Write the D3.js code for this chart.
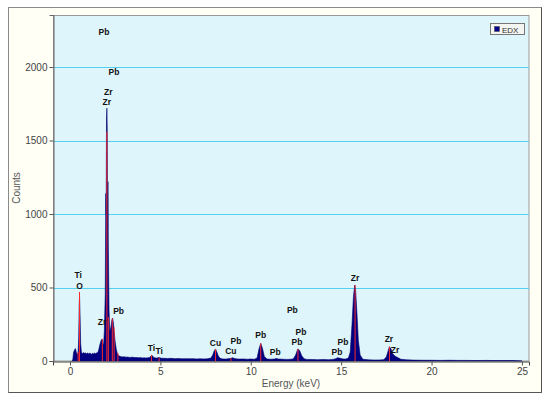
<!DOCTYPE html>
<html><head><meta charset="utf-8">
<script src="https://cdn.jsdelivr.net/npm/d3@7"></script>
<style>body{margin:0;background:#fff}svg{display:block}</style>
</head><body><svg id="c" width="550" height="402"></svg>
<script>
// spectrum outline: energy (keV) and counts
const energy = [0.10,0.15,0.20,0.25,0.30,0.35,0.40,0.45,0.48,0.51,0.53,0.56,0.59,0.63,0.70,0.75,0.80,0.85,0.90,0.95,1.00,1.05,1.10,1.15,1.20,1.25,1.30,1.35,1.40,1.45,1.50,1.55,1.58,1.65,1.72,1.78,1.82,1.86,1.90,1.95,1.98,2.00,2.02,2.04,2.06,2.08,2.10,2.12,2.16,2.20,2.26,2.32,2.36,2.40,2.44,2.50,2.56,2.62,2.70,2.80,2.90,3.00,3.10,3.20,3.30,3.40,3.50,3.60,3.70,3.80,3.90,4.00,4.10,4.20,4.30,4.40,4.47,4.52,4.57,4.65,4.80,4.93,5.05,5.20,5.40,5.60,5.80,6.00,6.20,6.40,6.60,6.80,7.00,7.20,7.40,7.60,7.80,7.90,7.98,8.05,8.12,8.20,8.30,8.45,8.60,8.75,8.90,9.00,9.10,9.25,9.40,9.60,9.80,10.00,10.20,10.35,10.45,10.55,10.65,10.75,10.90,11.10,11.30,11.40,11.55,11.80,12.00,12.20,12.35,12.48,12.60,12.70,12.82,12.95,13.10,13.40,13.70,14.00,14.30,14.55,14.70,14.80,14.95,15.10,15.25,15.40,15.50,15.60,15.68,15.75,15.80,15.87,15.95,16.05,16.20,16.50,16.80,17.10,17.35,17.50,17.60,17.67,17.75,17.85,17.98,18.10,18.30,18.60,19.00,19.50,20.00,20.50,21.00,21.50,22.00,22.50,23.00,23.50,24.00,24.50,25.00,25.05];
const counts = [0,5,60,75,85,60,40,60,150,380,440,300,120,60,50,58,52,56,48,54,52,47,55,50,46,52,49,54,50,53,56,62,72,110,140,150,120,110,200,450,1140,1000,1640,1720,1580,900,1220,800,350,200,230,280,292,260,200,130,80,50,35,30,28,29,26,27,24,26,25,23,24,22,23,21,22,20,22,24,32,40,34,22,20,24,19,18,17,18,16,17,15,16,15,16,14,15,14,15,20,42,70,82,62,35,18,14,13,15,18,22,17,14,13,14,12,13,12,20,80,120,85,30,13,12,13,17,13,12,11,12,14,40,82,72,35,15,11,10,9,10,9,11,16,22,18,14,13,20,60,250,440,517,480,330,140,40,12,8,7,7,9,28,70,97,85,50,33,25,12,8,6,5,5,4,5,4,4,3,4,3,3,3,0];
// element marker lines
const markerE = [0.45,0.525,1.79,2.04,2.12,2.34,2.44,2.65,4.51,4.93,8.05,8.90,10.55,12.61,15.77,17.67];
const markerC = [60,470,150,1560,300,290,230,55,40,22,82,20,120,82,517,97];
// element labels: text, energy, label height (counts)
const labelText = ["Pb","Pb","Zr","Zr","Ti","O","Zr","Pb","Ti","Ti","Cu","Cu","Pb","Pb","Pb","Pb","Pb","Pb","Pb","Pb","Zr","Zr","Zr"];
const labelE = [1.88,2.43,2.12,2.04,0.45,0.53,1.77,2.69,4.51,4.93,8.05,8.90,9.18,10.55,11.35,12.30,12.78,12.56,14.77,15.10,15.77,17.64,17.98];
const labelC = [2231,1959,1823,1755,578,503,260,333,80,60,116,60,129,170,55,340,190,122,55,122,558,143,70];
const yTicks = [0,500,1000,1500,2000];
const xTicks = [0,5,10,15,20,25];

const svg = d3.select("#c");
const x = d3.scaleLinear().domain([-0.94,25.39]).range([53,529]);
const y = d3.scaleLinear().domain([0,2354]).range([361,15]);

// outer panel
svg.append("rect").attr("x",8.5).attr("y",7.5).attr("width",533).attr("height",385)
  .attr("fill","#fffff6").attr("stroke","#8a8a8a");
svg.append("path").attr("d","M541.5,7.5V392.5H8.5").attr("fill","none").attr("stroke","#555");
// plot area
svg.append("rect").attr("x",53.5).attr("y",15.5).attr("width",475.5).attr("height",345.5)
  .attr("fill","#dff5fc").attr("stroke","#9a9a9a");

// gridlines
svg.append("g").selectAll("line").data(yTicks.filter(d=>d>0)).join("line")
  .attr("x1",54).attr("x2",529).attr("y1",d=>Math.round(y(d))+0.5).attr("y2",d=>Math.round(y(d))+0.5)
  .attr("stroke","#55d0ee").attr("stroke-width",1);

// spectrum
const area = d3.area().x((d,i)=>x(energy[i])).y0(y(0)).y1((d,i)=>y(d));
svg.append("path").datum(counts).attr("d",area).attr("fill","#000080").attr("stroke","#00006a").attr("stroke-width",0.6);

// markers
svg.append("g").selectAll("line").data(markerE).join("line")
  .attr("x1",d=>x(d)).attr("x2",d=>x(d)).attr("y1",y(0)).attr("y2",(d,i)=>y(markerC[i]))
  .attr("stroke","#ff2a2a").attr("stroke-width",1);

// labels
svg.append("g").selectAll("text").data(labelText).join("text")
  .attr("x",(d,i)=>x(labelE[i])).attr("y",(d,i)=>y(labelC[i]))
  .attr("text-anchor","middle").attr("dominant-baseline","middle")
  .attr("font-family","Liberation Sans, Arial, sans-serif").attr("font-size",8.5).attr("font-weight","bold")
  .attr("fill","#111").text(d=>d);

// axes
const ax = svg.append("g").attr("transform","translate(0,361.5)")
  .call(d3.axisBottom(x).tickValues(xTicks).tickSize(4).tickPadding(2).tickFormat(d3.format("d")));
const ay = svg.append("g").attr("transform","translate(53.5,0)")
  .call(d3.axisLeft(y).tickValues(yTicks).tickSize(4).tickPadding(2).tickFormat(d3.format("d")));
[ax,ay].forEach(g=>{
  g.select(".domain").attr("stroke","#666");
  g.selectAll(".tick line").attr("stroke","#555");
  g.selectAll(".tick text").attr("font-family","Liberation Sans, Arial, sans-serif").attr("font-size",10).attr("fill","#444");
});
ax.select(".domain").attr("stroke","#444");

svg.append("text").attr("transform","translate(20,188) rotate(-90)").attr("text-anchor","middle")
  .attr("font-family","Liberation Sans, Arial, sans-serif").attr("font-size",10).attr("fill","#555").text("Counts");
svg.append("text").attr("x",291).attr("y",387).attr("text-anchor","middle")
  .attr("font-family","Liberation Sans, Arial, sans-serif").attr("font-size",10).attr("fill","#555").text("Energy (keV)");

// legend
const lg = svg.append("g");
lg.append("rect").attr("x",490.5).attr("y",23.5).attr("width",34).attr("height",11).attr("fill","#f4f4f0").attr("stroke","#777");
lg.append("rect").attr("x",494.5).attr("y",26.5).attr("width",5).attr("height",5).attr("fill","#00008b").attr("stroke","#444").attr("stroke-width",0.5);
lg.append("text").attr("x",502).attr("y",32.5).attr("font-family","Liberation Sans, Arial, sans-serif").attr("font-size",8).attr("fill","#333").text("EDX");
</script></body></html>
